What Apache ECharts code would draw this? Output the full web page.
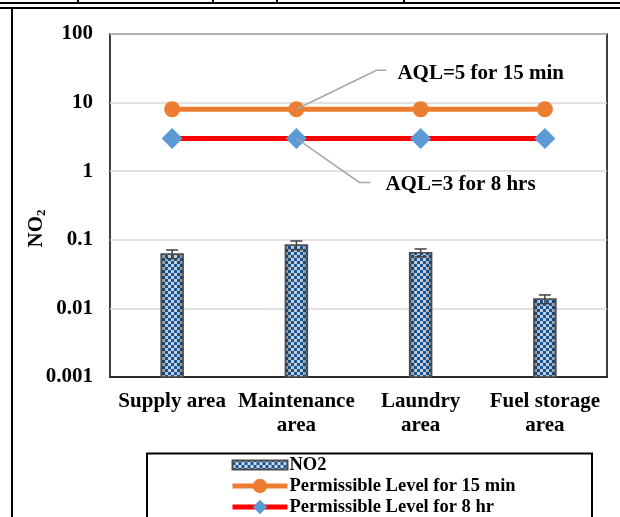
<!DOCTYPE html>
<html>
<head>
<meta charset="utf-8">
<script src="https://cdn.jsdelivr.net/npm/echarts@6/dist/echarts.min.js"></script>
<style>
html, body { margin: 0; padding: 0; background: #fff; }
#chart { width: 620px; height: 517px; }
</style>
</head>
<body>
<div id="chart"></div>
<script>
// NO2 concentrations by area, with the two permissible levels
const categories = ['Supply area', 'Maintenance\narea', 'Laundry\narea', 'Fuel storage\narea'];
const no2Values = [0.062, 0.084, 0.065, 0.0137];
const no2Errors = [0.009, 0.012, 0.0085, 0.002];
const limit15min = [8, 8, 8, 8];
const limit8hr = [3, 3, 3, 3];
const yTickLabels = ['0.001', '0.01', '0.1', '1', '10', '100'];
const seriesNames = ['NO2', 'Permissible Level for 15 min', 'Permissible Level for 8 hr'];
const notes = ['AQL=5 for 15 min', 'AQL=3 for 8 hrs'];

const Y_MIN = 0.001;
const Y_MAX = 100;
const FONT = '"Liberation Serif", "Times New Roman", serif';

// small blue/white checkerboard used as the bar fill
function checkerPattern() {
  const c = document.createElement('canvas');
  c.width = 6; c.height = 6;
  const g = c.getContext('2d');
  g.fillStyle = '#cfd9e4';
  g.fillRect(0, 0, 6, 6);
  g.fillStyle = '#15589f';
  g.fillRect(0, 0, 3, 3);
  g.fillRect(3, 3, 3, 3);
  return c;
}
const barFill = { image: checkerPattern(), repeat: 'repeat' };
// darker shading toward the bar edges
const barShade = {
  type: 'linear', x: 0, y: 0, x2: 1, y2: 0,
  colorStops: [
    { offset: 0, color: 'rgba(30,30,30,0.55)' },
    { offset: 0.3, color: 'rgba(30,30,30,0.05)' },
    { offset: 0.7, color: 'rgba(30,30,30,0.05)' },
    { offset: 1, color: 'rgba(30,30,30,0.55)' }
  ]
};

const chart = echarts.init(document.getElementById('chart'), null, { renderer: 'canvas' });

const frameStyle = { stroke: '#000', lineWidth: 2 };

chart.setOption({
  animation: false,
  backgroundColor: '#fff',
  textStyle: { fontFamily: FONT },
  grid: {
    left: 110, right: 13, top: 34, bottom: 140,
    show: true, borderColor: '#000', borderWidth: 1.5, backgroundColor: 'transparent'
  },
  xAxis: {
    type: 'category',
    data: categories,
    boundaryGap: true,
    axisLine: { show: true, lineStyle: { color: '#000', width: 1.5 } },
    axisTick: { show: false },
    axisLabel: {
      interval: 0, margin: 13, color: '#000',
      fontFamily: FONT, fontWeight: 'bold', fontSize: 21, lineHeight: 24
    }
  },
  yAxis: {
    type: 'log',
    logBase: 10,
    min: Y_MIN,
    max: Y_MAX,
    axisLine: { show: false },
    axisTick: { show: false },
    splitLine: { show: true, lineStyle: { color: '#d9d9d9', width: 1.5 } },
    axisLabel: {
      margin: 17, color: '#000', fontFamily: FONT, fontWeight: 'bold', fontSize: 21,
      formatter: function (v) {
        const k = Math.round(Math.log10(v)) + 3;
        return yTickLabels[k] !== undefined ? yTickLabels[k] : '';
      }
    },
    name: '{a|NO}{b|2}',
    nameLocation: 'middle',
    nameRotate: 90,
    nameGap: 62,
    nameMoveOverlap: false,
    nameTextStyle: {
      padding: [0, 46, 0, 0],
      rich: {
        a: { fontFamily: FONT, fontWeight: 'bold', fontSize: 21, color: '#000' },
        b: { fontFamily: FONT, fontWeight: 'bold', fontSize: 13, color: '#000', padding: [9, 0, 0, 0] }
      }
    }
  },
  legend: {
    orient: 'vertical',
    left: 230,
    top: 455,
    height: 90,
    itemWidth: 55,
    itemHeight: 18,
    itemGap: 1,
    padding: 0,
    data: [
      { name: seriesNames[0], icon: 'path://M0,0H55V9H0Z' },
      { name: seriesNames[1], lineStyle: { width: 5 } },
      { name: seriesNames[2], lineStyle: { width: 5 } }
    ],
    textStyle: { fontFamily: FONT, fontWeight: 'bold', fontSize: 18.5, lineHeight: 20, color: '#000', padding: [0, 0, 0, -3] }
  },
  graphic: [
    // surrounding frame lines
    { id: 'f1', type: 'line', silent: true, shape: { x1: 0, y1: 3, x2: 620, y2: 3 }, style: frameStyle },
    { id: 'f2', type: 'line', silent: true, shape: { x1: 0, y1: 8, x2: 620, y2: 8 }, style: frameStyle },
    { id: 'f3', type: 'line', silent: true, shape: { x1: 78, y1: 0, x2: 78, y2: 3 }, style: frameStyle },
    { id: 'f4', type: 'line', silent: true, shape: { x1: 213, y1: 0, x2: 213, y2: 3 }, style: frameStyle },
    { id: 'f5', type: 'line', silent: true, shape: { x1: 277, y1: 0, x2: 277, y2: 3 }, style: frameStyle },
    { id: 'f6', type: 'line', silent: true, shape: { x1: 404, y1: 0, x2: 404, y2: 3 }, style: frameStyle },
    { id: 'f7', type: 'line', silent: true, shape: { x1: 12, y1: 8, x2: 12, y2: 517 }, style: frameStyle },
    // legend box
    { id: 'lgbox', type: 'rect', silent: true, z: -1,
      shape: { x: 147, y: 453.5, width: 445, height: 80 },
      style: { fill: '#fff', stroke: '#000', lineWidth: 2 } }
  ],
  series: [
    {
      // bars drawn from the bottom of the log axis up to each value
      name: seriesNames[0],
      type: 'custom',
      z: 2,
      encode: { x: 0, y: 1 },
      itemStyle: { color: barFill, borderColor: '#4a4a4a', borderWidth: 1.5 },
      data: no2Values.map((v, i) => [i, v]),
      renderItem: function (params, api) {
        const i = api.value(0);
        const top = api.coord([i, api.value(1)]);
        const base = api.coord([i, Y_MIN]);
        const w = 22;
        const shape = { x: top[0] - w / 2, y: top[1], width: w, height: base[1] - top[1] };
        return {
          type: 'group',
          children: [
            { type: 'rect', shape: shape, style: { fill: barFill } },
            { type: 'rect', shape: shape, style: { fill: barShade, stroke: '#4a4a4a', lineWidth: 1.5 } }
          ]
        };
      }
    },
    {
      name: seriesNames[1],
      type: 'line',
      data: limit15min,
      z: 4,
      symbol: 'circle',
      symbolSize: 16,
      lineStyle: { color: '#ed7d31', width: 5 },
      itemStyle: { color: '#ed7d31' }
    },
    {
      name: seriesNames[2],
      type: 'line',
      data: limit8hr,
      z: 4,
      symbol: 'diamond',
      symbolSize: 21,
      lineStyle: { color: '#ff0000', width: 5 },
      itemStyle: { color: '#5b9bd5' }
    },
    {
      name: 'error',
      type: 'custom',
      z: 3,
      silent: true,
      encode: { x: 0, y: [1, 2] },
      data: no2Values.map((v, i) => [i, v - no2Errors[i], v + no2Errors[i]]),
      renderItem: function (params, api) {
        const x = api.value(0);
        const lo = api.coord([x, api.value(1)]);
        const hi = api.coord([x, api.value(2)]);
        const w = 6;
        const style = { stroke: '#404040', lineWidth: 1.5, fill: null };
        return {
          type: 'group',
          children: [
            { type: 'line', shape: { x1: lo[0], y1: lo[1], x2: hi[0], y2: hi[1] }, style: style },
            { type: 'line', shape: { x1: hi[0] - w, y1: hi[1], x2: hi[0] + w, y2: hi[1] }, style: style },
            { type: 'line', shape: { x1: lo[0] - w, y1: lo[1], x2: lo[0] + w, y2: lo[1] }, style: style }
          ]
        };
      }
    }
  ]
});

// callouts anchored on the second point of each limit line
const p1 = chart.convertToPixel({ seriesIndex: 1 }, [1, limit15min[1]]);
const p2 = chart.convertToPixel({ seriesIndex: 2 }, [1, limit8hr[1]]);
const leader = { stroke: '#a6a6a6', lineWidth: 1.5, fill: null };
const noteText = { fill: '#000', font: 'bold 21px ' + FONT, textVerticalAlign: 'middle', textAlign: 'left' };
chart.setOption({
  graphic: [
    { id: 'n1l', type: 'polyline', silent: true, z: 10,
      shape: { points: [[p1[0], p1[1]], [p1[0] + 80, p1[1] - 39], [p1[0] + 90, p1[1] - 39]] }, style: leader },
    { id: 'n1t', type: 'text', silent: true, z: 10, x: p1[0] + 101, y: p1[1] - 36,
      style: Object.assign({ text: notes[0] }, noteText) },
    { id: 'n2l', type: 'polyline', silent: true, z: 10,
      shape: { points: [[p2[0], p2[1]], [p2[0] + 63, p2[1] + 44], [p2[0] + 74, p2[1] + 44]] }, style: leader },
    { id: 'n2t', type: 'text', silent: true, z: 10, x: p2[0] + 89, y: p2[1] + 46,
      style: Object.assign({ text: notes[1] }, noteText) }
  ]
});
</script>
</body>
</html>
